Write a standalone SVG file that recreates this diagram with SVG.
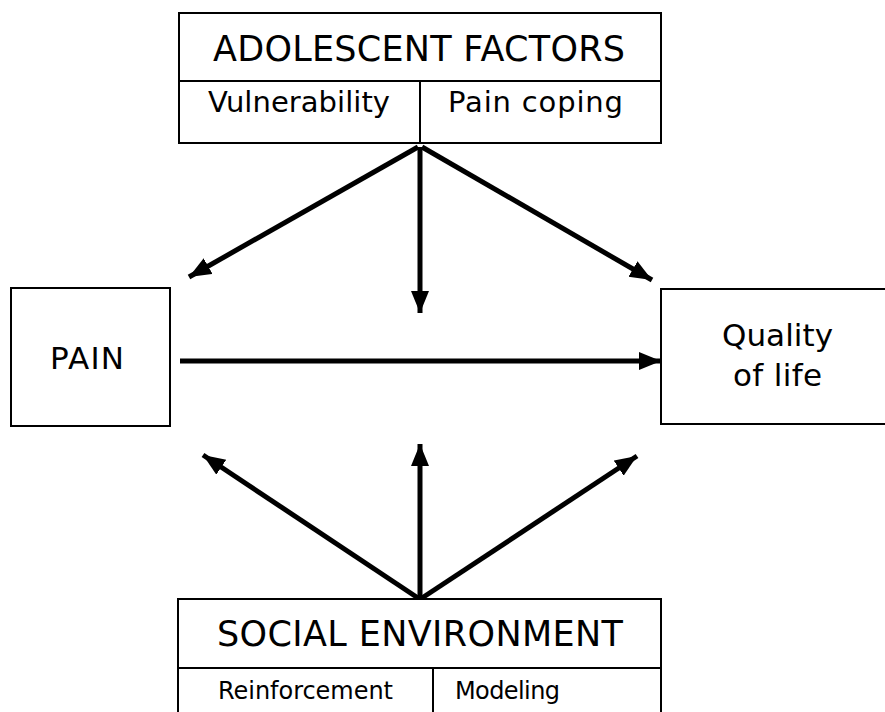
<svg xmlns="http://www.w3.org/2000/svg" width="885" height="712" viewBox="0 0 885 712">
  <style>
    .box { fill: #fff; stroke: #000; stroke-width: 2; }
    .div { stroke: #000; stroke-width: 2; fill: none; }
    .lbl { font-family: "DejaVu Sans", Verdana, sans-serif; fill: #000; }
    .big { font-size: 35px; }
    .mid { font-size: 29px; }
    .node { font-size: 31px; }
    .sml { font-size: 24px; }
    .arr { stroke: #000; stroke-width: 5; fill: none; marker-end: url(#head); }
  </style>
  <defs>
    <marker id="head" markerUnits="userSpaceOnUse" markerWidth="24" markerHeight="20" refX="22" refY="9" orient="auto">
      <path d="M0,0 L22,9 L0,18 Z" fill="#000"/>
    </marker>
  </defs>

  <g id="connectors">
    <line class="arr" x1="418" y1="147" x2="189" y2="277"/>
    <line class="arr" x1="420" y1="147" x2="420" y2="313"/>
    <line class="arr" x1="422" y1="147" x2="652" y2="280"/>
    <line class="arr" x1="180" y1="361" x2="661" y2="361"/>
    <line class="arr" x1="418" y1="598" x2="203" y2="455"/>
    <line class="arr" x1="420" y1="598" x2="420" y2="444"/>
    <line class="arr" x1="422" y1="598" x2="637" y2="456"/>
  </g>

  <g id="adolescent-factors">
    <rect class="box" x="179" y="13" width="482" height="130"/>
    <line class="div" x1="179" y1="81" x2="661" y2="81"/>
    <line class="div" x1="420" y1="81" x2="420" y2="143"/>
    <text class="lbl big" x="213" y="61" textLength="412">ADOLESCENT FACTORS</text>
    <text class="lbl mid" x="208" y="112" textLength="182">Vulnerability</text>
    <text class="lbl mid" x="448" y="112" textLength="175">Pain coping</text>
  </g>

  <g id="pain">
    <rect class="box" x="11" y="288" width="159" height="138"/>
    <text class="lbl node" x="50" y="369" textLength="74">PAIN</text>
  </g>

  <g id="quality-of-life">
    <rect class="box" x="661" y="289" width="240" height="135"/>
    <text class="lbl node" x="722" y="346" textLength="111">Quality</text>
    <text class="lbl node" x="733" y="386" textLength="89">of life</text>
  </g>

  <g id="social-environment">
    <rect class="box" x="178" y="599" width="483" height="130"/>
    <line class="div" x1="178" y1="668" x2="661" y2="668"/>
    <line class="div" x1="433" y1="668" x2="433" y2="729"/>
    <text class="lbl big" x="217" y="646" textLength="406">SOCIAL ENVIRONMENT</text>
    <text class="lbl sml" x="218" y="699" textLength="175">Reinforcement</text>
    <text class="lbl sml" x="455" y="699" textLength="105">Modeling</text>
  </g>
</svg>
